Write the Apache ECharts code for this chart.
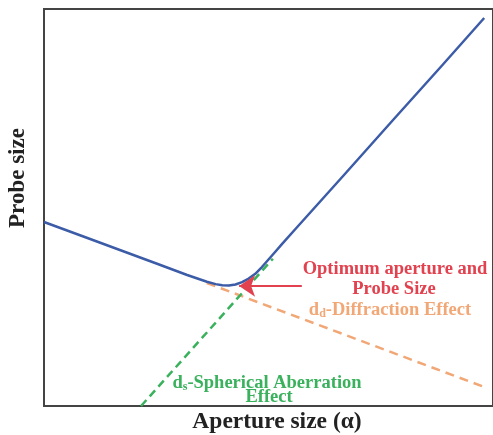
<!DOCTYPE html>
<html>
<head>
<meta charset="utf-8">
<script src="https://cdn.jsdelivr.net/npm/echarts@6/dist/echarts.min.js"></script>
<style>
  html, body { margin: 0; padding: 0; background: #fff; }
  #chart { width: 493px; height: 435px; }
</style>
</head>
<body>
<div id="chart"></div>
<script>
// Probe size versus aperture size (arbitrary units, 0-100 on both axes)
const probeX = [0, 8.02, 16.93, 25.84, 32.52, 37.0, 39.0, 40.5, 42.0, 43.5, 45.0, 46.5, 48.0, 49.5, 51.0, 52.5, 54.0, 57.02, 68.15, 79.29, 90.42, 100];
const probeY = [46.35, 43.07, 39.42, 35.77, 33.0, 31.3, 30.7, 30.4, 30.35, 30.6, 31.2, 32.1, 33.3, 35.0, 36.9, 38.8, 40.7, 44.46, 58.19, 72.04, 85.77, 97.73];

// Spherical aberration term d_s
const sphericalX = [22.05, 52.0];
const sphericalY = [0, 37.1];

// Diffraction term d_d
const diffractionX = [36.97, 100];
const diffractionY = [30.98, 4.79];

// Arrow pointing at the optimum
const arrowFrom = [58.57, 30.23];
const arrowTo = [44.32, 30.23];

const zip = (xs, ys) => xs.map((x, i) => [x, ys[i]]);

const serif = '"Liberation Serif", "DejaVu Serif", serif';
const red = '#e2424f';
const orange = '#f2a776';
const green = '#3ab15c';
const blue = '#3c5ca8';
const noteFont = 'bold 18.5px ' + serif;

const chart = echarts.init(document.getElementById('chart'));
chart.setOption({
  animation: false,
  backgroundColor: '#fff',
  grid: {
    left: 44, top: 9, width: 458, height: 397,
    show: true, borderColor: '#444', borderWidth: 2, backgroundColor: 'transparent'
  },
  xAxis: {
    type: 'value', min: 0, max: 102,
    axisLine: { show: false }, axisTick: { show: false },
    axisLabel: { show: false }, splitLine: { show: false }
  },
  yAxis: {
    type: 'value', min: 0, max: 100,
    axisLine: { show: false }, axisTick: { show: false },
    axisLabel: { show: false }, splitLine: { show: false }
  },
  series: [
    {
      name: 'd_d', type: 'line', data: zip(diffractionX, diffractionY),
      symbol: 'none', z: 2,
      lineStyle: { color: orange, width: 2.5, type: [9, 6] }
    },
    {
      name: 'd_s', type: 'line', data: zip(sphericalX, sphericalY),
      symbol: 'none', z: 2,
      lineStyle: { color: green, width: 2.5, type: [8, 5] }
    },
    {
      name: 'probe', type: 'line', data: zip(probeX, probeY),
      symbol: 'none', smooth: false, z: 3,
      lineStyle: { color: blue, width: 2.5, join: 'round' },
      markLine: {
        silent: true, animation: false,
        symbol: ['none', 'arrow'], symbolSize: 16,
        label: { show: false },
        lineStyle: { color: red, width: 2, type: 'solid' },
        data: [[{ coord: arrowFrom }, { coord: arrowTo }]]
      }
    }
  ],
  graphic: [
    {
      type: 'text', x: 277, y: 422,
      style: { text: 'Aperture size (α)', fill: '#222', font: 'bold 23.5px ' + serif,
               textAlign: 'center', textVerticalAlign: 'middle' }
    },
    {
      type: 'text', x: 18, y: 178, rotation: Math.PI / 2,
      style: { text: 'Probe size', fill: '#222', font: 'bold 23px ' + serif,
               textAlign: 'center', textVerticalAlign: 'middle' }
    },
    {
      type: 'text', x: 395, y: 269,
      style: { text: 'Optimum aperture and', fill: red, font: noteFont,
               textAlign: 'center', textVerticalAlign: 'middle' }
    },
    {
      type: 'text', x: 394, y: 289,
      style: { text: 'Probe Size', fill: red, font: noteFont,
               textAlign: 'center', textVerticalAlign: 'middle' }
    },
    {
      type: 'text', x: 390, y: 310,
      style: {
        text: '{n|d}{s|d}{n|-Diffraction Effect}',
        textAlign: 'center', textVerticalAlign: 'middle',
        rich: {
          n: { fill: orange, font: noteFont, lineHeight: 20, verticalAlign: 'bottom' },
          s: { fill: orange, font: 'bold 12px ' + serif, lineHeight: 20, verticalAlign: 'bottom', padding: [6, 0, 0, 0] }
        }
      }
    },
    {
      type: 'text', x: 267, y: 383,
      style: {
        text: '{n|d}{s|s}{n|-Spherical Aberration}',
        textAlign: 'center', textVerticalAlign: 'middle',
        rich: {
          n: { fill: green, font: noteFont, lineHeight: 20, verticalAlign: 'bottom' },
          s: { fill: green, font: 'bold 12px ' + serif, lineHeight: 20, verticalAlign: 'bottom', padding: [6, 0, 0, 0] }
        }
      }
    },
    {
      type: 'text', x: 269, y: 397,
      style: { text: 'Effect', fill: green, font: noteFont,
               textAlign: 'center', textVerticalAlign: 'middle' }
    }
  ]
});
</script>
</body>
</html>
